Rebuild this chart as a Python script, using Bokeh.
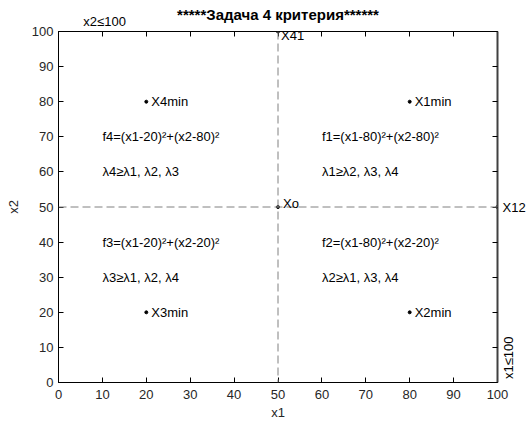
import math
from bokeh.plotting import figure
from bokeh.models import Range1d, LinearAxis, Label, FixedTicker, Span
from bokeh.embed import file_html
from bokeh.resources import INLINE

FONT = "Liberation Sans"
TITLE = "*****Задача 4 критерия******"
X_LABEL = "x1"
Y_LABEL = "x2"
ticks = [0, 10, 20, 30, 40, 50, 60, 70, 80, 90, 100]
X_MIN, X_MAX, Y_MIN, Y_MAX = 0, 100, 0, 100

# special points (the one on the right border is labelled outside the frame)
pt_names = ["X1min", "X2min", "X3min", "X4min", "Xo", "X41"]
pt_x = [80, 80, 20, 20, 50, 50]
pt_y = [80, 20, 20, 80, 50, 100]
edge_name = "X12"
edge_x = 100
edge_y = 50

# region texts
f_texts = ["f1=(x1-80)²+(x2-80)²", "f2=(x1-80)²+(x2-20)²",
           "f3=(x1-20)²+(x2-20)²", "f4=(x1-20)²+(x2-80)²"]
f_x = [60, 60, 10, 10]
f_y = [70, 40, 40, 70]
lam_texts = ["λ1≥λ2, λ3, λ4", "λ2≥λ1, λ3, λ4",
             "λ3≥λ1, λ2, λ4", "λ4≥λ1, λ2, λ3"]
lam_x = [60, 60, 10, 10]
lam_y = [60, 30, 30, 60]

# split lines and constraints
split_x1 = 50
split_x2 = 50
c1_text = "x1≤100"
c2_text = "x2≤100"
c2_at_x1 = 10.5   # centre of the "x2≤100" text along x1
c1_at_x2 = 1      # start of the "x1≤100" text along x2

FW, FH = 439, 351

p = figure(frame_width=FW, frame_height=FH, output_backend="svg",
           toolbar_location=None,
           x_range=Range1d(X_MIN, X_MAX), y_range=Range1d(Y_MIN, Y_MAX),
           min_border_left=58, min_border_right=32, min_border_top=31,
           min_border_bottom=39, x_axis_label=X_LABEL, y_axis_label=Y_LABEL)
p.grid.visible = False
p.outline_line_color = "black"


def style(ax, show_labels=True):
    ax.ticker = FixedTicker(ticks=ticks)
    ax.major_tick_in = 5
    ax.major_tick_out = 0
    ax.minor_tick_line_color = None
    ax.axis_line_color = "black"
    ax.major_tick_line_color = "black"
    ax.major_label_text_font = FONT
    if show_labels:
        ax.major_label_text_font_size = "13px"
        ax.major_label_text_color = "#262626"
        ax.axis_label_text_font = FONT
        ax.axis_label_text_font_size = "13px"
        ax.axis_label_text_font_style = "normal"
        ax.axis_label_text_color = "#262626"
    else:
        ax.major_label_text_font_size = "0px"
        ax.major_label_text_color = None
        ax.major_label_standoff = 0


def text_axis(tick, label, standoff):
    ax = LinearAxis(ticker=FixedTicker(ticks=[tick]),
                    major_label_overrides={tick: label})
    ax.major_tick_in = 0
    ax.major_tick_out = 0
    ax.axis_line_color = None
    ax.major_tick_line_color = None
    ax.minor_tick_line_color = None
    ax.major_label_standoff = standoff
    ax.major_label_text_font = FONT
    ax.major_label_text_font_size = "13px"
    ax.major_label_text_color = "black"
    return ax


style(p.xaxis[0])
style(p.yaxis[0])
p.xaxis[0].major_label_standoff = 7
p.xaxis[0].axis_label_standoff = 3
p.yaxis[0].major_label_standoff = 5
p.yaxis[0].axis_label_standoff = 8

top_ax = LinearAxis()
right_ax = LinearAxis()
style(top_ax, False)
style(right_ax, False)
right_ax.axis_line_color = "#404040"
right_ax.axis_line_width = 2
p.add_layout(top_ax, "above")
p.add_layout(right_ax, "right")

# top band: constraint text as a tick label, chart title as the axis label
top_text = text_axis(c2_at_x1, c2_text, 3)
top_text.axis_label = TITLE
top_text.axis_label_text_font = FONT
top_text.axis_label_text_font_size = "15px"
top_text.axis_label_text_font_style = "bold"
top_text.axis_label_text_color = "black"
top_text.axis_label_standoff = -12
p.add_layout(top_text, "above")

# right band: label of the point on the right border, then the constraint text
edge_ax = text_axis(edge_y, edge_name, 5)
p.add_layout(edge_ax, "right")
c1_ax = text_axis(c1_at_x2, c1_text, -20)
c1_ax.major_label_orientation = math.pi / 2
p.add_layout(c1_ax, "right")

p.add_layout(Span(location=split_x1, dimension="height", line_color="#808080",
                  line_dash="8 4", line_width=1))
p.add_layout(Span(location=split_x2, dimension="width", line_color="#808080",
                  line_dash="8 4", line_width=1))

p.scatter(pt_x + [edge_x], pt_y + [edge_y], size=3, color="black")

offsets = {"Xo": (5, 4), "X41": (3, -4)}
for n, x, y in zip(pt_names, pt_x, pt_y):
    dx, dy = offsets.get(n, (5, 0))
    p.add_layout(Label(x=x, y=y, x_offset=dx, y_offset=dy, text=n,
                       text_baseline="middle", text_align="left",
                       text_font=FONT, text_font_size="13px", text_color="black"))

for t, x, y in zip(f_texts, f_x, f_y):
    p.add_layout(Label(x=x, y=y, text=t, text_baseline="middle",
                       text_font=FONT, text_font_size="13px", text_color="black"))
for t, x, y in zip(lam_texts, lam_x, lam_y):
    p.add_layout(Label(x=x, y=y, text=t, text_baseline="middle",
                       text_font=FONT, text_font_size="13px", text_color="black"))

open("out.html", "w").write(file_html(p, INLINE))
